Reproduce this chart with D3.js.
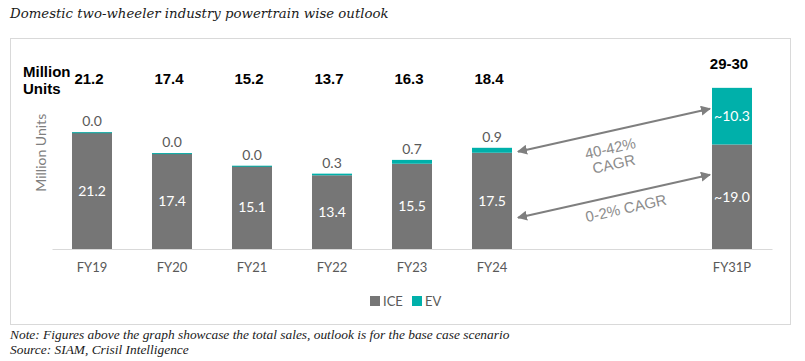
<!DOCTYPE html>
<html>
<head>
<meta charset="utf-8">
<script src="https://cdn.jsdelivr.net/npm/d3@7"></script>
<style>
  body { margin: 0; background: #fff; }
  svg { display: block; }
</style>
</head>
<body>
<div id="chart"></div>
<script>
  "use strict";

  // data
  var years = ["FY19", "FY20", "FY21", "FY22", "FY23", "FY24", "FY31P"];
  var ice = [21.2, 17.4, 15.1, 13.4, 15.5, 17.5, 19.0];
  var ev = [0.03, 0.03, 0.04, 0.3, 0.7, 0.9, 10.3];
  var iceLabels = ["21.2", "17.4", "15.1", "13.4", "15.5", "17.5", "~19.0"];
  var evLabels = ["0.0", "0.0", "0.0", "0.3", "0.7", "0.9", "~10.3"];
  var totalLabels = ["21.2", "17.4", "15.2", "13.7", "16.3", "18.4", "29-30"];
  var slots = ["FY19", "FY20", "FY21", "FY22", "FY23", "FY24", "gap1", "gap2", "FY31P"];

  // CAGR arrows, in data units: [from year, value] -> [to year, value]
  var arrows = [
    {from: ["FY24", 17.7], to: ["FY31P", 25.5], text: ["40-42%", "CAGR"], shift: [-2, 26]},
    {from: ["FY24", 5.7], to: ["FY31P", 13.5], text: ["0-2% CAGR"], shift: [12, 12]}
  ];

  var width = 805, height = 361;
  var ICE_COLOR = "#767676", EV_COLOR = "#00b0aa", LABEL = "#595959";
  var BODY_FONT = "Lato, 'Open Sans', sans-serif";

  var svg = d3.select("#chart").append("svg")
      .attr("width", width)
      .attr("height", height);

  svg.append("text")
      .attr("x", 10).attr("y", 18)
      .style("font-family", "'DejaVu Serif', serif")
      .style("font-style", "italic")
      .style("font-size", "13.3px")
      .attr("fill", "#1a1a1a")
      .text("Domestic two-wheeler industry powertrain wise outlook");

  svg.append("rect")
      .attr("x", 10.5).attr("y", 38.5)
      .attr("width", 780).attr("height", 286)
      .attr("fill", "#fff")
      .attr("stroke", "#d9d9d9");

  var x = d3.scaleBand().domain(slots).range([52, 772])
      .paddingInner(0.5).paddingOuter(0.25);
  var y = d3.scaleLinear().domain([0, 30]).range([249, 84]);

  var rows = years.map(function (d, i) {
    return {year: d, ice: ice[i], ev: ev[i], iceLabel: iceLabels[i],
            evLabel: evLabels[i], total: totalLabels[i]};
  });

  // x axis
  var xAxis = svg.append("g")
      .attr("transform", "translate(0," + y(0) + ")")
      .call(d3.axisBottom(x).tickValues(years).tickSize(0).tickPadding(14));
  xAxis.select(".domain").attr("stroke", "#d9d9d9");
  xAxis.selectAll("text")
      .style("font-family", BODY_FONT).style("font-size", "13px")
      .attr("fill", LABEL);

  svg.append("text")
      .attr("transform", "translate(46," + y(17.5) + ") rotate(-90)")
      .attr("text-anchor", "middle")
      .style("font-family", BODY_FONT).style("font-size", "14px")
      .attr("fill", "#7f7f7f")
      .text("Million Units");

  var bars = svg.append("g").selectAll("g").data(rows).enter().append("g");

  bars.append("rect")
      .attr("x", function (d) { return x(d.year); })
      .attr("y", function (d) { return y(d.ice); })
      .attr("width", x.bandwidth())
      .attr("height", function (d) { return y(0) - y(d.ice); })
      .attr("fill", ICE_COLOR);

  bars.append("rect")
      .attr("x", function (d) { return x(d.year); })
      .attr("y", function (d) { return y(d.ice + d.ev); })
      .attr("width", x.bandwidth())
      .attr("height", function (d) { return Math.max(1, y(d.ice) - y(d.ice + d.ev)); })
      .attr("fill", EV_COLOR);

  bars.append("text")
      .attr("x", function (d) { return x(d.year) + x.bandwidth() / 2; })
      .attr("y", function (d) { return (y(0) + y(d.ice)) / 2; })
      .attr("dy", "0.35em")
      .attr("text-anchor", "middle")
      .style("font-family", BODY_FONT).style("font-size", "14px")
      .attr("fill", "#fff")
      .text(function (d) { return d.iceLabel; });

  // EV labels: above the bar, or inside when the segment is tall
  bars.append("text")
      .attr("x", function (d) { return x(d.year) + x.bandwidth() / 2; })
      .attr("y", function (d) {
        var h = y(d.ice) - y(d.ice + d.ev);
        return h > 20 ? (y(d.ice) + y(d.ice + d.ev)) / 2 : y(d.ice + d.ev) - 11;
      })
      .attr("dy", "0.35em")
      .attr("text-anchor", "middle")
      .style("font-family", BODY_FONT).style("font-size", "14px")
      .attr("fill", function (d) { return d.ev > 5 ? "#fff" : LABEL; })
      .text(function (d) { return d.evLabel; });

  bars.append("text")
      .attr("x", function (d) { return x(d.year) + x.bandwidth() / 2 - 3; })
      .attr("y", function (d) { return Math.min(79, y(d.ice + d.ev) - 24); })
      .attr("dy", "0.35em")
      .attr("text-anchor", "middle")
      .style("font-family", "'Liberation Sans', Arial, sans-serif")
      .style("font-weight", "bold").style("font-size", "15px")
      .attr("fill", "#000")
      .text(function (d) { return d.total; });

  var unitLabel = svg.append("text")
      .style("font-family", "'Liberation Sans', Arial, sans-serif")
      .style("font-weight", "bold").style("font-size", "15px")
      .attr("fill", "#000");
  unitLabel.append("tspan").attr("x", 23).attr("y", 77).text("Million");
  unitLabel.append("tspan").attr("x", 23).attr("y", 94).text("Units");

  // CAGR arrows
  var defs = svg.append("defs");
  defs.append("marker")
      .attr("id", "head")
      .attr("viewBox", "0 0 10 10")
      .attr("refX", 9).attr("refY", 5)
      .attr("markerWidth", 5).attr("markerHeight", 5)
      .attr("orient", "auto-start-reverse")
      .append("path")
      .attr("d", "M0,0 L10,5 L0,10 z")
      .attr("fill", "#7f7f7f");

  arrows.forEach(function (a) {
    var x1 = x(a.from[0]) + x.bandwidth() + 6, y1 = y(a.from[1]);
    var x2 = x(a.to[0]) - 2, y2 = y(a.to[1]);
    svg.append("line")
        .attr("x1", x1).attr("y1", y1)
        .attr("x2", x2).attr("y2", y2)
        .attr("stroke", "#7f7f7f").attr("stroke-width", 2)
        .attr("marker-start", "url(#head)")
        .attr("marker-end", "url(#head)");

    var angle = Math.atan2(y2 - y1, x2 - x1) * 180 / Math.PI;
    var cx = (x1 + x2) / 2 + a.shift[0], cy = (y1 + y2) / 2 + a.shift[1];
    var t = svg.append("text")
        .attr("transform", "translate(" + cx + "," + cy + ") rotate(" + angle + ")")
        .attr("text-anchor", "middle")
        .style("font-family", "'Liberation Sans', Arial, sans-serif")
        .style("font-size", "15px")
        .attr("fill", "#8c8c8c");
    a.text.forEach(function (line, i) {
      t.append("tspan").attr("x", 0).attr("y", (i - (a.text.length - 1) / 2) * 16)
          .attr("dy", "0.35em").text(line);
    });
  });

  // legend
  var legend = svg.append("g").attr("transform", "translate(370,301)");
  [["ICE", ICE_COLOR], ["EV", EV_COLOR]].forEach(function (d, i) {
    var g = legend.append("g").attr("transform", "translate(" + (i * 42) + ",0)");
    g.append("rect").attr("x", 0).attr("y", -5).attr("width", 10).attr("height", 10)
        .attr("fill", d[1]);
    g.append("text").attr("x", 13).attr("dy", "0.35em")
        .style("font-family", BODY_FONT).style("font-size", "13px")
        .attr("fill", LABEL).text(d[0]);
  });

  var notes = ["Note: Figures above the graph showcase the total sales, outlook is for the base case scenario",
               "Source: SIAM, Crisil Intelligence"];
  svg.append("g").selectAll("text").data(notes).enter().append("text")
      .attr("x", 10)
      .attr("y", function (d, i) { return 339 + i * 15; })
      .style("font-family", "'Liberation Serif', serif")
      .style("font-style", "italic")
      .style("font-size", "13.4px")
      .attr("fill", "#1a1a1a")
      .text(function (d) { return d; });
</script>
</body>
</html>
